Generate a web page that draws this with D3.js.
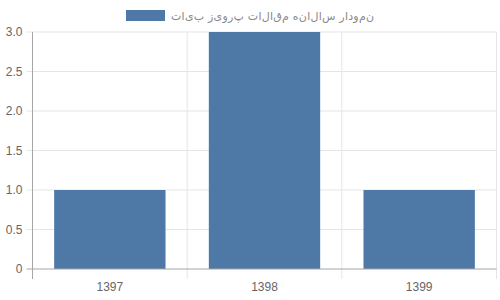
<!DOCTYPE html>
<html>
<head>
<meta charset="utf-8">
<script src="https://cdn.jsdelivr.net/npm/d3@7"></script>
<style>
  body { margin: 0; background: #fff; }
  text { font-family: "Liberation Sans", Arial, sans-serif; }
</style>
</head>
<body>
<div id="chart"></div>
<script>
  var years = ['1397', '1398', '1399'];
  var counts = [1, 3, 1];
  var yTicks = [0, 0.5, 1, 1.5, 2, 2.5, 3];
  var seriesName = 'نمودار سالانه مقالات پرویز بیات';

  var w = 500, h = 300;
  var margin = {top: 32, right: 3.5, bottom: 31, left: 32.5};
  var width = w - margin.left - margin.right;
  var height = h - margin.top - margin.bottom;

  var svg = d3.select('#chart')
    .append('svg')
    .attr('width', w)
    .attr('height', h);

  var g = svg.append('g')
    .attr('transform', 'translate(' + margin.left + ',' + margin.top + ')');

  var x = d3.scaleBand().domain(years).range([0, width]);
  var y = d3.scaleLinear().domain([0, 3]).range([height, 0]);

  // horizontal grid
  g.selectAll('.hgrid')
    .data(yTicks.slice(1))
    .enter().append('line')
    .attr('x1', -6).attr('x2', width)
    .attr('y1', function(d) { return y(d); })
    .attr('y2', function(d) { return y(d); })
    .attr('stroke', '#e5e5e5');

  // vertical grid (band edges)
  var edges = years.map(function(d) { return x(d); }).concat([width]);
  g.selectAll('.vgrid')
    .data(edges.slice(1))
    .enter().append('line')
    .attr('x1', function(d) { return d; })
    .attr('x2', function(d) { return d; })
    .attr('y1', 0).attr('y2', height + 10)
    .attr('stroke', '#e5e5e5');

  // bars
  var barW = x.bandwidth() * 0.72;
  g.selectAll('.bar')
    .data(counts)
    .enter().append('rect')
    .attr('x', function(d, i) { return x(years[i]) + (x.bandwidth() - barW) / 2; })
    .attr('width', barW)
    .attr('y', function(d) { return y(d); })
    .attr('height', function(d) { return height - y(d); })
    .attr('fill', '#4e79a7');

  // axes lines
  g.append('line')
    .attr('x1', 0).attr('x2', 0)
    .attr('y1', 0).attr('y2', height + 10)
    .attr('stroke', '#a6a6a6');
  g.append('line')
    .attr('x1', -6).attr('x2', width)
    .attr('y1', height).attr('y2', height)
    .attr('stroke', '#a6a6a6');

  // y labels
  g.selectAll('.ylab')
    .data(yTicks)
    .enter().append('text')
    .attr('x', -10)
    .attr('y', function(d) { return y(d); })
    .attr('dy', '0.35em')
    .attr('text-anchor', 'end')
    .attr('font-size', 12)
    .attr('fill', '#666')
    .text(function(d) { return d === 0 ? '0' : d.toFixed(1); });

  // x labels
  g.selectAll('.xlab')
    .data(years)
    .enter().append('text')
    .attr('x', function(d) { return x(d) + x.bandwidth() / 2; })
    .attr('y', height + 22)
    .attr('text-anchor', 'middle')
    .attr('font-size', 12)
    .attr('fill', '#666')
    .text(function(d) { return d; });

  // legend - original draws the letters unjoined, so put ZWNJ between them
  svg.append('rect')
    .attr('x', 126).attr('y', 10)
    .attr('width', 39).attr('height', 11)
    .attr('fill', '#4e79a7');
  svg.append('text')
    .attr('x', 374).attr('y', 20)
    .attr('text-anchor', 'end')
    .attr('font-size', 11)
    .attr('textLength', 203)
    .attr('lengthAdjust', 'spacing')
    .attr('fill', '#888')
    .style('font-family', '"DejaVu Sans", sans-serif')
    .text(Array.from(seriesName).join('\u200C'));
</script>
</body>
</html>
